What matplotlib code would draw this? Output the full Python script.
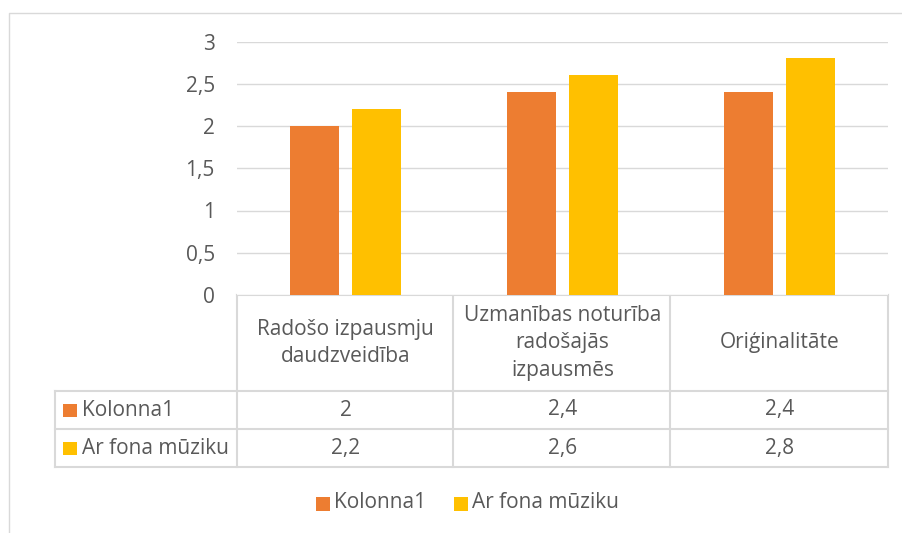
import matplotlib.pyplot as plt
import matplotlib.transforms as mtransforms
from matplotlib.patches import Rectangle
import numpy as np

plt.rcParams['font.family'] = ['Open Sans', 'DejaVu Sans']

# data
categories = ["Radošo izpausmju\ndaudzveidība",
              "Uzmanības noturība\nradošajās\nizpausmēs",
              "Oriģinalitāte"]
series_names = ["Kolonna1", "Ar fona mūziku"]
kolonna1 = [2, 2.4, 2.4]
ar_fona = [2.2, 2.6, 2.8]
yticks = [0, 0.5, 1, 1.5, 2, 2.5, 3]
ytick_labels = ["0", "0,5", "1", "1,5", "2", "2,5", "3"]

colors = ["#ED7D31", "#FFC000"]
text_col = "#595959"
line_col = "#D9D9D9"
W, H = 902, 533

fig = plt.figure(figsize=(W / 100, H / 100), dpi=100)

# overlay in pixel coords for table / border
ov = fig.add_axes([0, 0, 1, 1])
ov.set_xlim(0, W)
ov.set_ylim(H, 0)
ov.axis("off")

# main axes: x 237..888, y 41.5..295 px
left, right, top, bottom = 237, 888, 41.5, 295
ax = fig.add_axes([left / W, 1 - bottom / H, (right - left) / W, (bottom - top) / H])

x = np.arange(len(categories))
bw = 0.226
gap = 0.06
ax.bar(x - (bw + gap) / 2, kolonna1, bw, color=colors[0], zorder=3)
ax.bar(x + (bw + gap) / 2, ar_fona, bw, color=colors[1], zorder=3)

ax.set_xlim(-0.5, len(categories) - 0.5)
ax.set_ylim(0, 3)
ax.set_yticks(yticks)
ax.set_yticklabels(ytick_labels)
ax.set_xticks([])
ax.grid(axis="y", color=line_col, linewidth=1, zorder=0)
for s in ax.spines.values():
    s.set_visible(False)
fs = 15
ax.tick_params(axis="y", length=0, pad=16, labelsize=fs, labelcolor=text_col)

# chart border
ov.plot([9, 9, W + 5], [H + 5, 13, 13], color=line_col, lw=1)

# data table
y_head, y_r1, y_r2, y_end = 295, 390.7, 429.3, 467
col_edges = [left, 453, 670, right]
ov.plot([left, right], [y_head, y_head], color=line_col, lw=1.5)
for yy in [y_r1, y_r2, y_end]:
    ov.plot([55, right], [yy, yy], color=line_col, lw=1.5)
for xx in col_edges:
    ov.plot([xx, xx], [y_head, y_end], color=line_col, lw=1.5)
ov.plot([55, 55], [y_r1, y_end], color=line_col, lw=1.5)

trans = mtransforms.blended_transform_factory(ax.transData, ov.transData)
for i, cat in enumerate(categories):
    ov.text(x[i], (y_head + y_r1) / 2, cat, transform=trans, ha="center", va="center",
            fontsize=fs, color=text_col, linespacing=1.4)
    ov.text(x[i], (y_r1 + y_r2) / 2, str(kolonna1[i]).replace(".", ","), transform=trans,
            ha="center", va="center", fontsize=fs, color=text_col)
    ov.text(x[i], (y_r2 + y_end) / 2, str(ar_fona[i]).replace(".", ","), transform=trans,
            ha="center", va="center", fontsize=fs, color=text_col)

for j, (name, rc) in enumerate(zip(series_names, [(y_r1 + y_r2) / 2, (y_r2 + y_end) / 2])):
    ov.add_patch(Rectangle((63, rc - 6.5), 13.5, 13.5, color=colors[j], lw=0))
    ov.text(82, rc, name, ha="left", va="center", fontsize=fs, color=text_col)

# legend
leg = [(316, series_names[0], colors[0]), (454, series_names[1], colors[1])]
for lx, name, c in leg:
    ov.add_patch(Rectangle((lx, 497), 14, 14, color=c, lw=0))
    ov.text(lx + 18, 503, name, ha="left", va="center", fontsize=fs, color=text_col)

fig.savefig("out.png", dpi=100)
